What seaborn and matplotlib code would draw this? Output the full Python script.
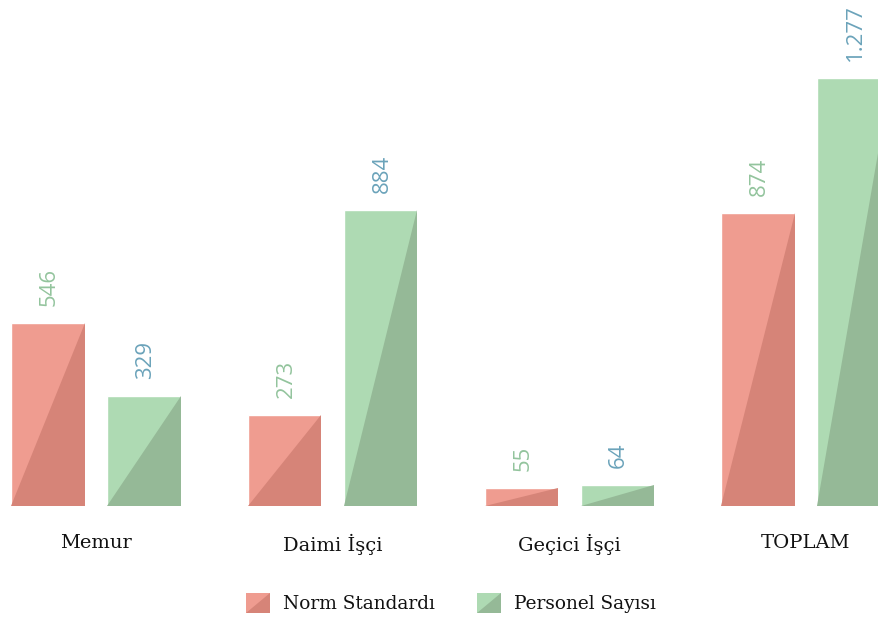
import pandas as pd
import matplotlib.pyplot as plt
import seaborn as sns
from matplotlib.patches import Polygon
from matplotlib.legend_handler import HandlerBase

# data
categories = ["Memur", "Daimi İşçi", "Geçici İşçi", "TOPLAM"]
norm_standardi = [546, 273, 55, 874]
personel_sayisi = [329, 884, 64, 1277]
series_names = ["Norm Standardı", "Personel Sayısı"]

light = ["#EF9C90", "#AEDAB3"]
dark = ["#D68478", "#95B997"]
label_colors = ["#93C49D", "#6BA3BA"]

df = pd.DataFrame({
    "Kategori": categories * 2,
    "Seri": [series_names[0]] * 4 + [series_names[1]] * 4,
    "Deger": norm_standardi + personel_sayisi,
})

sns.set_theme(style="white")
plt.rcParams["font.family"] = ["DejaVu Serif"]

fig = plt.figure(figsize=(8.79, 6.2), dpi=100)
ax = fig.add_axes([0, 114 / 620, 1, 506 / 620])

sns.barplot(data=df, x="Kategori", y="Deger", hue="Seri", order=categories,
            hue_order=series_names, palette=light, width=0.812, gap=0.236,
            saturation=1, legend=False, ax=ax)

# diagonal split: darker lower-right triangle on each bar
bars = [p for p in ax.patches]
for i, bar in enumerate(bars):
    s = i // len(categories)
    x0, y0 = bar.get_x(), bar.get_y()
    x1, y1 = x0 + bar.get_width(), y0 + bar.get_height()
    ax.add_patch(Polygon([(x0, y0), (x1, y0), (x1, y1)], closed=True,
                         facecolor=dark[s], edgecolor="none", zorder=bar.get_zorder() + 0.1))
    val = bar.get_height()
    txt = f"{int(val):,}".replace(",", ".")
    ax.annotate(txt, (x0 + bar.get_width() / 2, y1), xytext=(1, 12),
                textcoords="offset points", rotation=90, ha="center", va="bottom",
                color=label_colors[s], fontsize=16, family=["Open Sans", "DejaVu Sans"])

ax.set_xlim(-0.406, 3.309)
ax.set_ylim(0, 1510)
ax.set_xlabel("")
ax.set_ylabel("")
ax.set_yticks([])
ax.tick_params(axis="x", length=0, pad=20, labelsize=14, labelcolor="#111111")
sns.despine(ax=ax, left=True, bottom=True)


class SplitHandler(HandlerBase):
    def __init__(self, c_light, c_dark):
        super().__init__()
        self.c_light = c_light
        self.c_dark = c_dark

    def create_artists(self, legend, orig_handle, xdescent, ydescent, width, height, fontsize, trans):
        x0, y0 = -xdescent, -ydescent
        x1, y1 = x0 + width, y0 + height
        a = Polygon([(x0, y0), (x0, y1), (x1, y1), (x1, y0)], closed=True,
                    facecolor=self.c_light, edgecolor="none", transform=trans)
        b = Polygon([(x0, y0), (x1, y0), (x1, y1)], closed=True,
                    facecolor=self.c_dark, edgecolor="none", transform=trans)
        return [a, b]


h1 = Polygon([(0, 0)], label=series_names[0])
h2 = Polygon([(0, 0)], label=series_names[1])
fig.legend([h1, h2], series_names, loc="center", bbox_to_anchor=(451 / 879, 1 - 603 / 620),
           ncol=2, frameon=False, fontsize=13.3, handlelength=1.3, handleheight=1.3,
           handletextpad=0.7, columnspacing=2.3, labelcolor="#111111",
           handler_map={h1: SplitHandler(light[0], dark[0]), h2: SplitHandler(light[1], dark[1])})

fig.savefig("out.png", dpi=100)
